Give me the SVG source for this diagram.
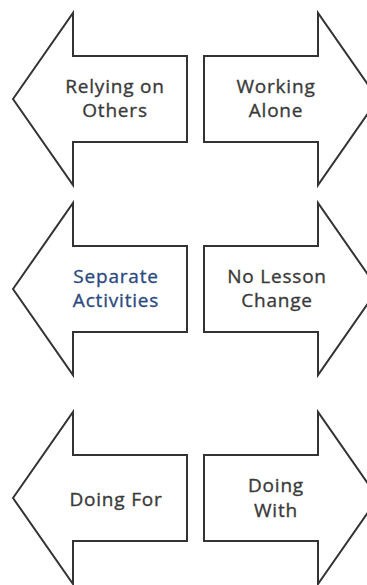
<svg xmlns="http://www.w3.org/2000/svg" width="367" height="585" viewBox="0 0 367 585">
<defs>
<style>
.arrow{fill:#ffffff;stroke:#333333;stroke-width:2;stroke-linejoin:miter}
.t{font-family:"Open Sans",Lato,"Liberation Sans",sans-serif;font-size:19px;letter-spacing:0.8px;fill:#3a3a3a;stroke:#3a3a3a;stroke-width:0.35px;text-anchor:middle}
.blue{fill:#2d4a80;stroke:#2d4a80}
</style>
<polygon id="leftArrow" points="13,0 73,-86 73,-43 187,-43 187,43 73,43 73,86"/>
<polygon id="rightArrow" points="204,-43 318,-43 318,-86 378,0 318,86 318,43 204,43"/>
</defs>
<rect width="367" height="585" fill="#ffffff"/>
<g id="relying-on-others">
<use href="#leftArrow" class="arrow" transform="translate(0,99)"/>
<text class="t" x="115" y="93">Relying on</text>
<text class="t" x="115" y="117">Others</text>
</g>
<g id="working-alone">
<use href="#rightArrow" class="arrow" transform="translate(0,99)"/>
<text class="t" x="276" y="93">Working</text>
<text class="t" x="276" y="117">Alone</text>
</g>
<g id="separate-activities">
<use href="#leftArrow" class="arrow" transform="translate(0,289)"/>
<text class="t blue" x="116" y="283">Separate</text>
<text class="t blue" x="116" y="307">Activities</text>
</g>
<g id="no-lesson-change">
<use href="#rightArrow" class="arrow" transform="translate(0,289)"/>
<text class="t" x="277" y="283">No Lesson</text>
<text class="t" x="277" y="307">Change</text>
</g>
<g id="doing-for">
<use href="#leftArrow" class="arrow" transform="translate(0,498)"/>
<text class="t" x="116" y="506">Doing For</text>
</g>
<g id="doing-with">
<use href="#rightArrow" class="arrow" transform="translate(0,498)"/>
<text class="t" x="276" y="492">Doing</text>
<text class="t" x="276" y="517">With</text>
</g>
<g id="connectors"></g>
</svg>
